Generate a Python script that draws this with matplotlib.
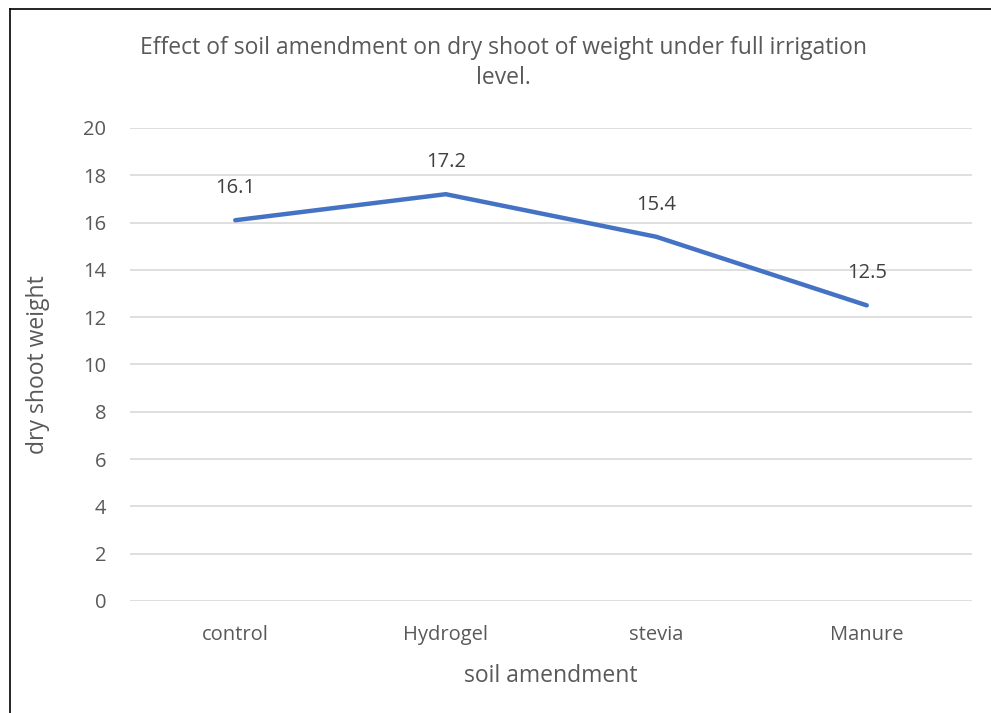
import matplotlib.pyplot as plt
from matplotlib.lines import Line2D

# Chart data
categories = ["control", "Hydrogel", "stevia", "Manure"]
dry_shoot = [16.1, 17.2, 15.4, 12.5]
y_ticks = [0, 2, 4, 6, 8, 10, 12, 14, 16, 18, 20]

plt.rcParams['font.family'] = ['Open Sans', 'DejaVu Sans']
text_col = '#595959'

fig = plt.figure(figsize=(9.91, 7.13), dpi=100)
ax = fig.add_axes([0.1312, 0.1571, 0.8496, 0.6634])

x = list(range(len(categories)))
ax.plot(x, dry_shoot, color='#4472C4', linewidth=3.2, solid_capstyle='round', zorder=3)

# data labels above each point
for xi, v in zip(x, dry_shoot):
    ax.annotate(f"{v}", (xi, v), xytext=(0, 16), textcoords='offset points',
                ha='center', va='bottom', fontsize=14.5, color='#404040')

ax.set_xlim(-0.5, len(categories) - 0.5)
ax.set_ylim(0, 20)
ax.set_yticks(y_ticks)
ax.set_xticks(x)
ax.set_xticklabels(categories)
ax.tick_params(axis='both', length=0, labelsize=14.5, labelcolor=text_col)
ax.tick_params(axis='y', pad=17)
ax.tick_params(axis='x', pad=17)
ax.grid(axis='y', color='#D9D9D9', linewidth=1.2)
ax.set_axisbelow(True)
for s in ax.spines.values():
    s.set_visible(False)

ax.set_xlabel("soil amendment", fontsize=16.5, color=text_col, labelpad=14)
ax.set_ylabel("dry shoot weight", fontsize=16.5, color=text_col, labelpad=24)

fig.text(0.508, 0.912, "Effect of soil amendment on dry shoot of weight under full irrigation\nlevel.",
         ha='center', va='center', fontsize=16.5, color=text_col, linespacing=1.35)

# outer chart border (only left and top visible in the crop)
fig.add_artist(Line2D([10 / 991, 10 / 991], [0, 1 - 9 / 713], color='black', linewidth=1.2))
fig.add_artist(Line2D([10 / 991, 1], [1 - 9 / 713, 1 - 9 / 713], color='black', linewidth=1.2))

fig.savefig("out.png", dpi=100)
